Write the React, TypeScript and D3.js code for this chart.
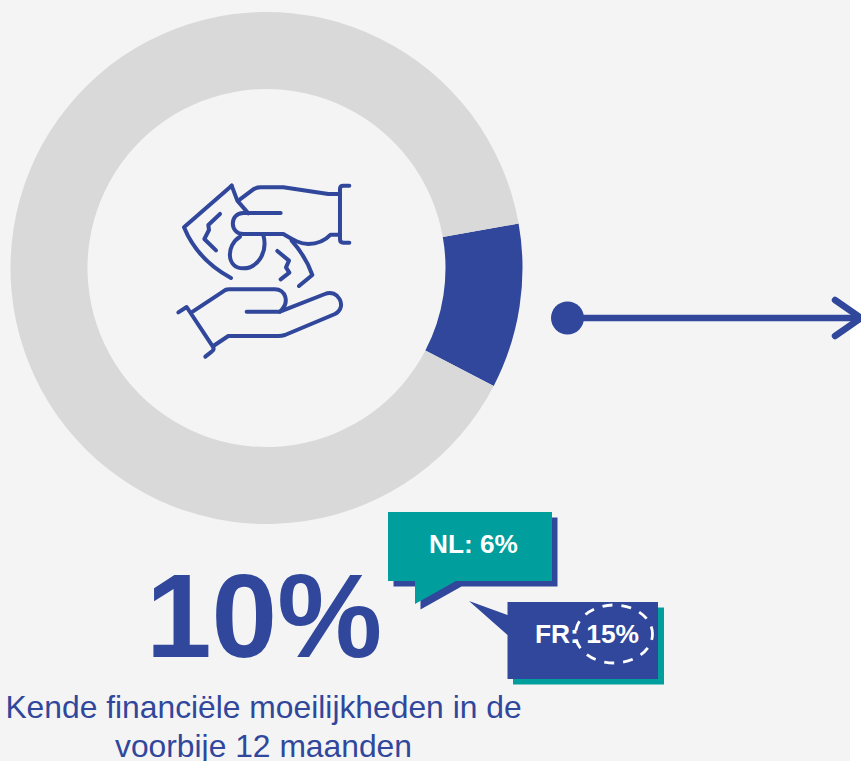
import React from "react";
import * as d3 from "d3";

const donutLabels = ["Financiële moeilijkheden", "Overige"];
const donutValues = [10.4, 89.6];
const donutColors = ["#30479b", "#d9d9d9"];
const headline = "10%";
const captionLines = ["Kende financiële moeilijkheden in de", "voorbije 12 maanden"];
const nlLabel = "NL: 6%";
const frLabel = "FR: 15%";

const BLUE = "#30479b";
const TEAL = "#009f9d";
const FONT = "'Liberation Sans', Arial, sans-serif";

const iconPaths = [
  "M215,47 L72,172 C100,240 150,290 213,324",
  "M215,47 L232,92 L265,130",
  "M240,88 L280,58 Q290,52 302,52 L370,52 L505,72 L540,72",
  "M568,47 L550,47 Q540,47 540,57 L540,208 Q540,218 550,218 L568,218",
  "M362,129 L250,129 C208,129 208,192 250,192 L370,192 C400,210 420,222 445,222 C475,222 495,212 512,194 L540,194",
  "M240,200 C198,225 198,295 250,295 C290,295 325,250 310,195",
  "M395,212 C420,240 445,280 457,315 L417,348",
  "M180,132 L145,165 L147,180 L133,207 L168,241",
  "M352,243 L387,272 L378,292 L388,308 L362,328",
  "M98,425 L190,364 Q197,358 207,358 L345,358 C375,358 392,395 360,425 L260,425",
  "M360,425 L495,372 C532,355 565,410 525,432 L375,495 Q365,498 355,498 L205,498 L160,528",
  "M55,427 L80,411 L160,532 Q163,540 155,545 L136,560",
];

export default function App() {
  const cx = 266.5, cy = 268;
  const start = (80 * Math.PI) / 180;
  const pie = d3.pie<number>().sort(null).startAngle(start).endAngle(start + 2 * Math.PI);
  const arc = d3.arc<d3.PieArcDatum<number>>().innerRadius(179).outerRadius(256);
  const arcs = pie(donutValues);

  return (
    <svg width={861} height={761} style={{ position: "absolute", left: 0, top: 0, background: "#fff" }} fontFamily={FONT}>
      <rect x={0} y={0} width={850} height={761} fill="#f4f4f4" />
      <g transform={`translate(${cx},${cy})`}>
        {arcs.map((a, i) => (
          <path key={donutLabels[i]} d={arc(a) || ""} fill={donutColors[i]} />
        ))}
      </g>

      <g transform="translate(160,170) scale(0.3333)" fill="none" stroke={BLUE} strokeWidth={12} strokeLinecap="round" strokeLinejoin="round">
        {iconPaths.map((d, i) => <path key={i} d={d} />)}
      </g>

      <circle cx={567.5} cy={318} r={16.5} fill={BLUE} />
      <line x1={567} y1={318} x2={860} y2={318} stroke={BLUE} strokeWidth={6.5} />
      <path d="M835,300 L861,318 L835,336" fill="none" stroke={BLUE} strokeWidth={6.5} strokeLinecap="round" strokeLinejoin="round" />

      <text x={264} y={657} textAnchor="middle" fontSize={118} fontWeight="bold" fill={BLUE}>{headline}</text>
      <text x={263.5} y={718} textAnchor="middle" fontSize={31.8} fill={BLUE}>{captionLines[0]}</text>
      <text x={263.5} y={757} textAnchor="middle" fontSize={31.8} fill={BLUE}>{captionLines[1]}</text>

      <path d="M393.5,517.5 H557.5 V586.5 H461.5 L420.5,609.5 V586.5 H393.5 Z" fill={BLUE} />
      <path d="M388,512 H552 V581 H456 L415,604 V581 H388 Z" fill={TEAL} />
      <text x={473.5} y={553} textAnchor="middle" fontSize={26.2} fontWeight="bold" fill="#fff">{nlLabel}</text>

      <rect x={513} y={607.5} width={151} height={77} fill={TEAL} />
      <path d="M507.5,602 H658 V679 H507.5 V635 L469,601 L507.5,615 Z" fill={BLUE} />
      <text x={587} y={643} textAnchor="middle" fontSize={26.4} fontWeight="bold" fill="#fff">{frLabel}</text>
      <ellipse cx={614} cy={634} rx={38.5} ry={29} fill="none" stroke="#fff" strokeWidth={2.8} strokeDasharray="10 9" strokeDashoffset={4} />
    </svg>
  );
}
